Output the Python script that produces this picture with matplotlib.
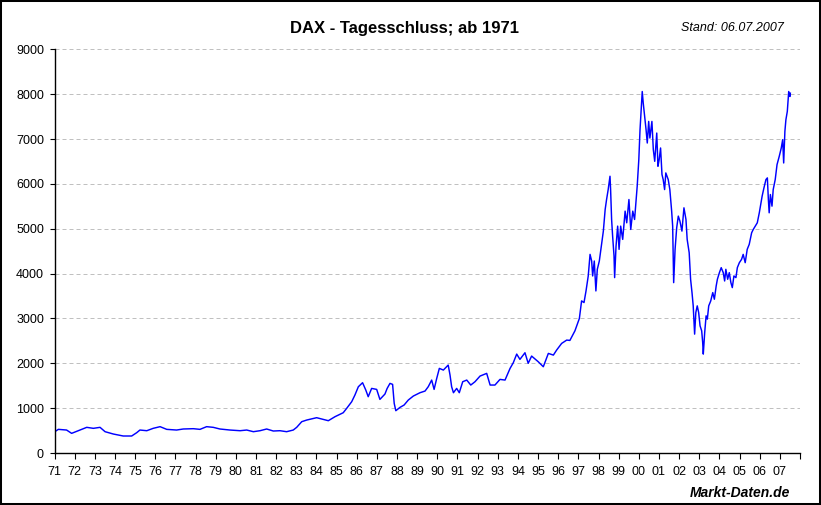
import matplotlib
matplotlib.use("Agg")
import matplotlib.pyplot as plt
from matplotlib.patches import Rectangle

plt.rcParams['font.family'] = ['Liberation Sans', 'DejaVu Sans']

# DAX Tagesschluss (Jahr als Dezimalzahl, Punkte)
years = [
    1971.00, 1971.19, 1971.60, 1971.85, 1972.27, 1972.60, 1972.93, 1973.26, 1973.51, 1973.92,
    1974.41, 1974.83, 1975.08, 1975.24, 1975.58, 1975.90, 1976.24, 1976.57, 1977.06, 1977.39,
    1977.89, 1978.22, 1978.55, 1978.88, 1979.21, 1979.71, 1980.21, 1980.54, 1980.87, 1981.20,
    1981.53, 1981.86, 1982.19, 1982.52, 1982.85, 1983.02, 1983.27, 1983.52, 1984.01, 1984.59,
    1984.92, 1985.33, 1985.50, 1985.75, 1985.91, 1986.08, 1986.29, 1986.45, 1986.57, 1986.74,
    1986.99, 1987.15, 1987.40, 1987.51, 1987.65, 1987.78, 1987.86, 1987.94, 1988.15, 1988.35,
    1988.56, 1988.81, 1989.14, 1989.39, 1989.55, 1989.72, 1989.84, 1989.97, 1990.10, 1990.30,
    1990.54, 1990.63, 1990.71, 1990.80, 1990.96, 1991.09, 1991.26, 1991.46, 1991.66, 1991.87,
    1992.12, 1992.45, 1992.62, 1992.86, 1993.11, 1993.36, 1993.61, 1993.77, 1993.94, 1994.10,
    1994.35, 1994.51, 1994.68, 1995.01, 1995.26, 1995.51, 1995.76, 1995.92, 1996.17, 1996.42,
    1996.58, 1996.83, 1997.05, 1997.16, 1997.28, 1997.38, 1997.49, 1997.58, 1997.66, 1997.71,
    1997.79, 1997.87, 1997.94, 1998.04, 1998.15, 1998.24, 1998.33, 1998.40, 1998.48, 1998.57,
    1998.60, 1998.65, 1998.70, 1998.77, 1998.80, 1998.87, 1998.95, 1999.02, 1999.10, 1999.20,
    1999.32, 1999.40, 1999.51, 1999.60, 1999.70, 1999.79, 1999.86, 1999.92, 2000.00, 2000.06,
    2000.13, 2000.17, 2000.22, 2000.29, 2000.36, 2000.42, 2000.49, 2000.55, 2000.65, 2000.72,
    2000.79, 2000.89, 2000.95, 2001.01, 2001.08, 2001.15, 2001.21, 2001.28, 2001.34, 2001.46,
    2001.54, 2001.63, 2001.68, 2001.73, 2001.80, 2001.88, 2001.96, 2002.04, 2002.14, 2002.24,
    2002.34, 2002.40, 2002.50, 2002.57, 2002.64, 2002.70, 2002.77, 2002.83, 2002.90, 2002.97,
    2003.04, 2003.12, 2003.17, 2003.20, 2003.27, 2003.34, 2003.40, 2003.47, 2003.57, 2003.67,
    2003.75, 2003.84, 2003.90, 2004.00, 2004.09, 2004.19, 2004.26, 2004.32, 2004.41, 2004.49,
    2004.57, 2004.64, 2004.72, 2004.82, 2004.89, 2004.99, 2005.10, 2005.18, 2005.28, 2005.38,
    2005.48, 2005.60, 2005.68, 2005.78, 2005.88, 2005.98, 2006.05, 2006.12, 2006.21, 2006.31,
    2006.38, 2006.43, 2006.47, 2006.53, 2006.61, 2006.67, 2006.77, 2006.86, 2006.97, 2007.07,
    2007.14, 2007.19, 2007.25, 2007.30, 2007.37, 2007.44, 2007.50, 2007.52,
]
closes = [
    470, 527, 512, 438, 512, 572, 550, 572, 475, 423,
    379, 379, 453, 512, 497, 550, 587, 527, 512, 535,
    542, 527, 587, 572, 535, 512, 497, 512, 475, 497,
    535, 490, 497, 475, 512, 572, 698, 735, 787, 720,
    809, 898, 995, 1143, 1292, 1477, 1567, 1403, 1255, 1440,
    1418, 1195, 1314, 1440, 1552, 1530, 1106, 943, 1018, 1069,
    1181, 1270, 1344, 1381, 1478, 1626, 1418, 1663, 1886, 1849,
    1960, 1738, 1478, 1344, 1440, 1344, 1589, 1626, 1515, 1589,
    1715, 1775, 1515, 1515, 1641, 1626, 1886, 2012, 2205, 2087,
    2235, 2000, 2161, 2034, 1923, 2220, 2183, 2294, 2443, 2517,
    2510, 2724, 3000, 3391, 3354, 3613, 3947, 4428, 4280, 3947,
    4280, 3613, 4095, 4280, 4651, 4947, 5429, 5651, 5873, 6170,
    5873, 5206, 4836, 4391, 3910, 4614, 5058, 4540, 5058, 4762,
    5392, 5132, 5651, 4984, 5392, 5206, 5614, 5947, 6540, 7207,
    7726, 8059, 7800, 7504, 7207, 6911, 7392, 7022, 7392, 6763,
    6503, 7133, 6392, 6540, 6800, 6207, 6096, 5873, 6244, 6096,
    5873, 5392, 5058, 3798, 4540, 5021, 5281, 5169, 4947, 5466,
    5206, 4762, 4465, 3873, 3576, 3280, 2650, 3132, 3280, 3132,
    2835, 2724, 2465, 2205, 2687, 3058, 2984, 3280, 3391, 3576,
    3428, 3724, 3873, 4021, 4132, 4021, 3835, 4095, 3873, 4021,
    3798, 3687, 3947, 3910, 4132, 4243, 4317, 4428, 4243, 4540,
    4651, 4910, 4984, 5058, 5132, 5355, 5540, 5725, 5910, 6096,
    6133, 5651, 5355, 5762, 5503, 5873, 6096, 6429, 6614, 6800,
    6985, 6466, 7170, 7429, 7615, 8059, 7948, 8022,
]

tick_years = list(range(1971, 2009))
tick_labels = ['%02d' % (y % 100) for y in range(1971, 2008)] + ['']

fig = plt.figure(figsize=(8.21, 5.05), dpi=100)
ax = fig.add_axes([54.5 / 821, 1 - 453 / 505, (800 - 54.5) / 821, (453 - 49.3) / 505])

ax.plot(years, closes, color='#0000FF', lw=1.05)

ax.set_xlim(1971, 2008)
ax.set_ylim(0, 9000)
ax.set_yticks(range(0, 9001, 1000))
ax.set_xticks(tick_years)
ax.set_xticklabels(tick_labels)

ax.grid(axis='y', color='#C0C0C0', lw=0.72, linestyle=(0, (4, 3)))
ax.set_axisbelow(True)
for side in ['top', 'right']:
    ax.spines[side].set_visible(False)
for side in ['left', 'bottom']:
    ax.spines[side].set_linewidth(1.0)
    ax.spines[side].set_color('black')
ax.tick_params(axis='y', length=3.6, width=0.8, pad=4, labelsize=9)
ax.tick_params(axis='x', length=4.3, width=0.8, pad=5, labelsize=9)

fig.text(404 / 821, 1 - 29 / 505, 'DAX - Tagesschluss; ab 1971', ha='center', va='center',
         fontsize=12, fontweight='bold')
fig.text(732.5 / 821, 1 - 28 / 505, 'Stand: 06.07.2007', ha='center', va='center',
         fontsize=9, style='italic')
fig.text(739.5 / 821, 1 - 493 / 505, 'Markt-Daten.de', ha='center', va='center',
         fontsize=10, fontweight='bold', style='italic')

fig.patches.append(Rectangle((0, 0), 1, 1, transform=fig.transFigure, fill=False,
                             lw=2.9, ec='black'))

fig.savefig('out.png', dpi=100)
